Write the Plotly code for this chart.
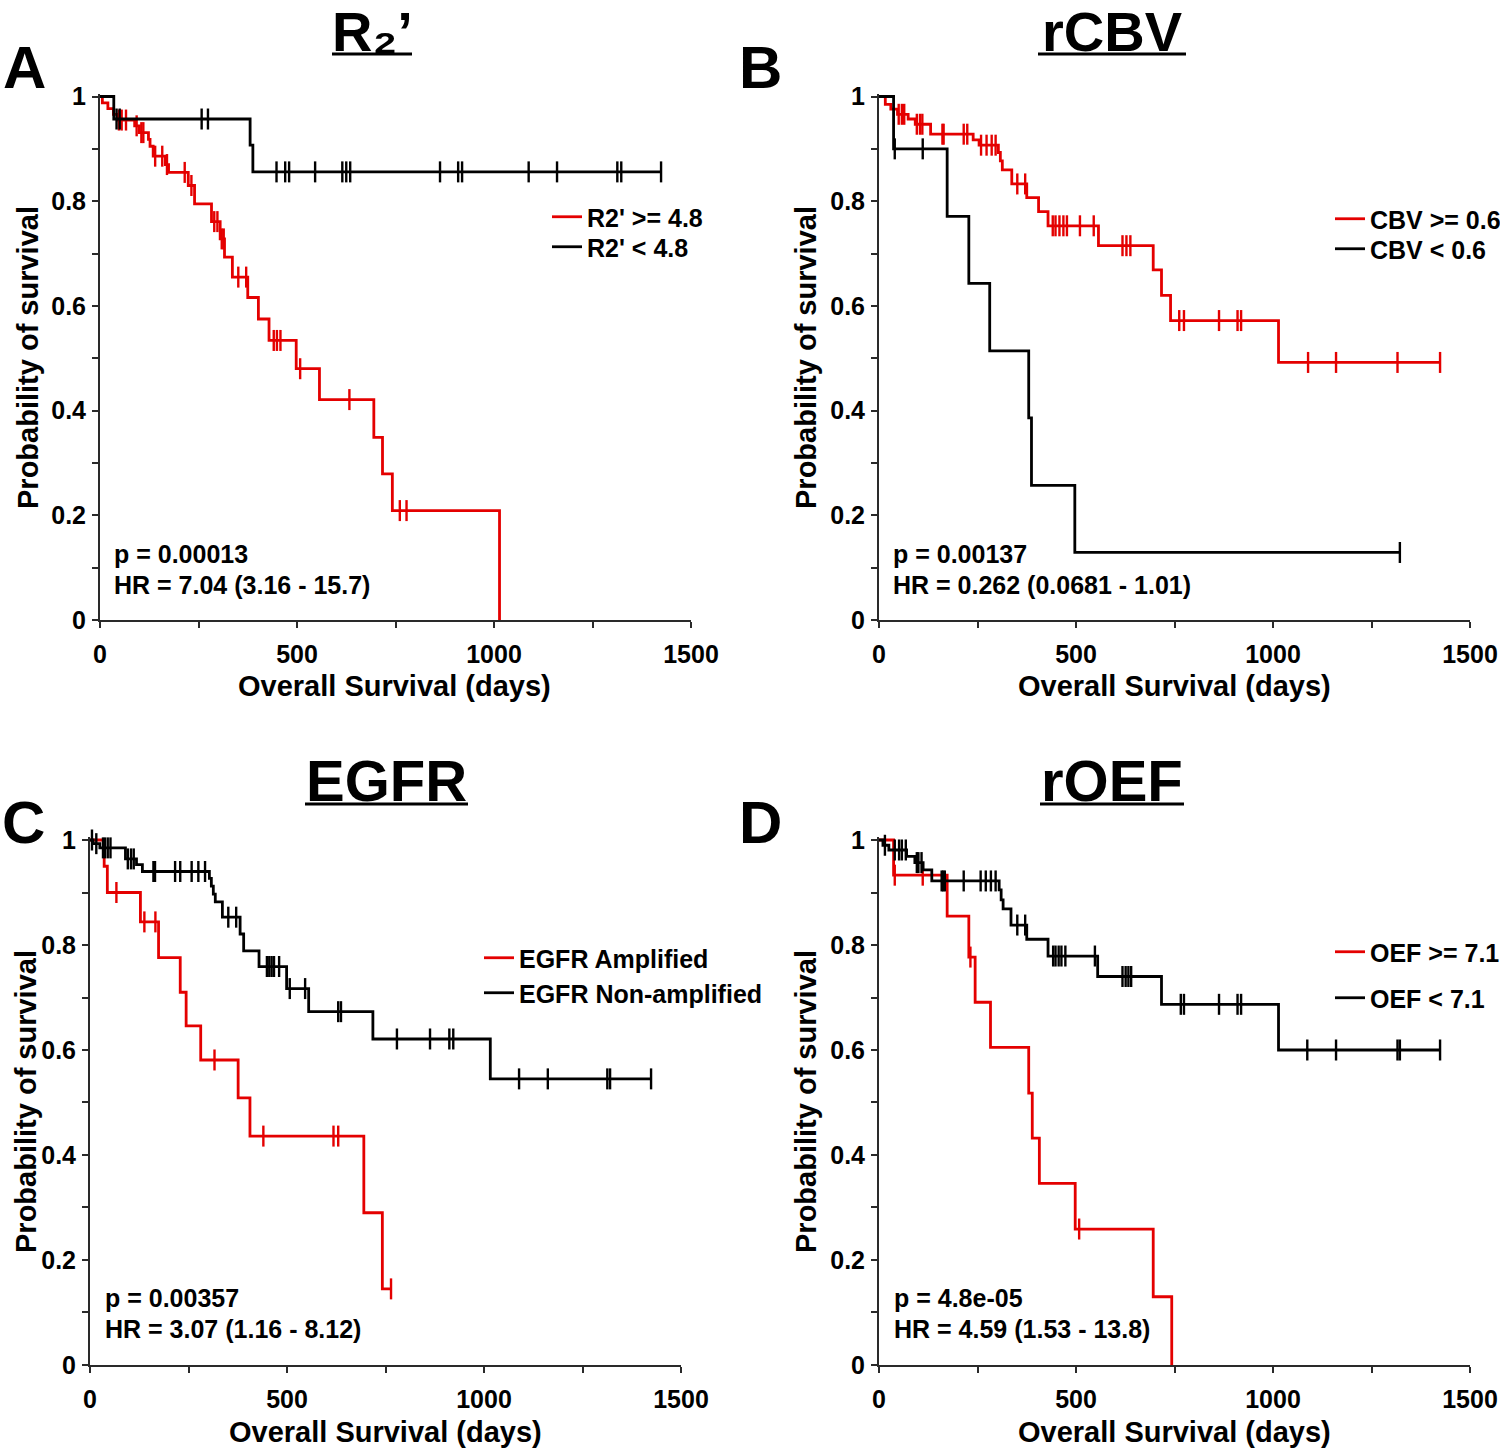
import numpy as np
import plotly.graph_objects as go

W, H = 1500, 1451
RED = "rgb(228,0,0)"
BLACK = "#000000"
FONT = "Liberation Sans, Arial, Helvetica, DejaVu Sans, sans-serif"

# ---------------- Data ----------------
# Panel A : R2'
a_hi_t = [6, 20, 34, 45, 88, 100, 123, 127, 135, 166, 174, 224, 240, 283, 305, 316, 336, 375, 402, 429, 498, 557, 695, 717, 742, 1014]
a_hi_s = [0.988, 0.977, 0.966, 0.955, 0.944, 0.931, 0.918, 0.905, 0.886, 0.870, 0.855, 0.830, 0.795, 0.761, 0.728, 0.693, 0.655, 0.616, 0.575, 0.534, 0.480, 0.421, 0.349, 0.279, 0.209, 0.0]
a_hi_c = [48, 55, 66, 93, 105, 110, 140, 158, 170, 215, 232, 290, 298, 309, 314, 351, 371, 441, 449, 458, 508, 633, 761, 778]
a_lo_t = [35, 381, 388]
a_lo_s = [0.957, 0.907, 0.856]
a_lo_c = [42, 50, 258, 274, 448, 470, 480, 546, 615, 625, 635, 863, 909, 919, 1088, 1160, 1313, 1323, 1424]

# Panel B : rCBV
b_hi_t = [16, 30, 47, 74, 92, 131, 239, 254, 303, 308, 313, 337, 375, 405, 429, 557, 696, 717, 740, 1014]
b_hi_s = [0.985, 0.976, 0.966, 0.957, 0.947, 0.928, 0.917, 0.907, 0.893, 0.877, 0.860, 0.833, 0.807, 0.780, 0.753, 0.715, 0.669, 0.620, 0.572, 0.492]
b_hi_c = [50, 58, 64, 96, 104, 110, 161, 164, 215, 224, 259, 273, 286, 296, 351, 371, 441, 448, 458, 468, 477, 510, 545, 618, 628, 638, 762, 774, 863, 910, 919, 1089, 1160, 1316, 1424]
b_lo_t = [37, 173, 228, 281, 380, 387, 497]
b_lo_s = [0.900, 0.771, 0.643, 0.514, 0.386, 0.257, 0.129]
b_lo_c = [40, 111, 1322]

# Panel C : EGFR
c_amp_t = [36, 44, 128, 174, 229, 244, 281, 376, 406, 695, 742]
c_amp_s = [0.950, 0.900, 0.844, 0.776, 0.710, 0.646, 0.581, 0.509, 0.436, 0.290, 0.145]
c_amp_c = [67, 138, 166, 316, 440, 618, 630, 764]
c_non_t = [8, 25, 90, 118, 133, 303, 308, 313, 318, 336, 381, 390, 429, 499, 555, 718, 1016]
c_non_s = [0.993, 0.985, 0.964, 0.953, 0.940, 0.927, 0.912, 0.897, 0.882, 0.853, 0.821, 0.789, 0.759, 0.717, 0.673, 0.621, 0.545]
c_non_c = [5, 16, 33, 38, 45, 52, 96, 104, 111, 161, 165, 216, 229, 258, 275, 292, 351, 371, 449, 455, 461, 467, 480, 507, 546, 630, 637, 779, 863, 912, 922, 1089, 1162, 1313, 1320, 1424]

# Panel D : rOEF
d_hi_t = [37, 173, 228, 244, 283, 380, 389, 407, 498, 696, 743]
d_hi_s = [0.933, 0.855, 0.777, 0.691, 0.605, 0.518, 0.432, 0.346, 0.259, 0.130, 0.0]
d_hi_c = [40, 111, 232, 508]
d_lo_t = [10, 25, 70, 91, 112, 134, 305, 310, 315, 335, 375, 429, 555, 717, 1014]
d_lo_s = [0.990, 0.981, 0.969, 0.957, 0.943, 0.922, 0.905, 0.886, 0.869, 0.838, 0.811, 0.779, 0.740, 0.687, 0.600]
d_lo_c = [15, 40, 51, 58, 68, 96, 100, 108, 159, 163, 167, 215, 258, 271, 284, 296, 351, 371, 442, 448, 456, 463, 473, 548, 618, 626, 633, 640, 766, 774, 863, 910, 919, 1087, 1160, 1316, 1322, 1424]

titles = ["R\u2082\u2019", "rCBV", "EGFR", "rOEF"]
letters = ["A", "B", "C", "D"]
legend_names = [("R2' >= 4.8", "R2' < 4.8"), ("CBV >= 0.6", "CBV < 0.6"),
                ("EGFR Amplified", "EGFR Non-amplified"), ("OEF >= 7.1", "OEF < 7.1")]
p_texts = ["p = 0.00013", "p = 0.00137", "p = 0.00357", "p = 4.8e-05"]
hr_texts = ["HR = 7.04 (3.16 - 15.7)", "HR = 0.262 (0.0681 - 1.01)",
            "HR = 3.07 (1.16 - 8.12)", "HR = 4.59 (1.53 - 13.8)"]
x_ticks = [0, 250, 500, 750, 1000, 1250, 1500]
x_ticktext = ["0", "", "500", "", "1000", "", "1500"]
y_ticks = [round(0.1 * i, 1) for i in range(11)]
y_ticktext = ["0", "", "0.2", "", "0.4", "", "0.6", "", "0.8", "", "1"]

curves = [
    ((a_hi_t, a_hi_s, a_hi_c), (a_lo_t, a_lo_s, a_lo_c)),
    ((b_hi_t, b_hi_s, b_hi_c), (b_lo_t, b_lo_s, b_lo_c)),
    ((c_amp_t, c_amp_s, c_amp_c), (c_non_t, c_non_s, c_non_c)),
    ((d_hi_t, d_hi_s, d_hi_c), (d_lo_t, d_lo_s, d_lo_c)),
]

# ---------------- Layout geometry (window pixels) ----------------
# (x0_px, x1_px, ybottom_px, ytop_px) for each panel
panels_px = [(100, 691, 620, 96.5), (879, 1470, 620, 96.5),
             (90, 681, 1365, 840), (879, 1470, 1365, 840)]
YMAX = 1.005
# legend entry: (line end x, centre y) for red and black entries
legend_px = [((582, 217), (582, 247)), ((1365, 219), (1365, 249)),
             ((514, 958), (514, 993)), ((1365, 952), (1365, 998))]


def px(x):
    return x / W


def py(y):
    return 1 - y / H


fig = go.Figure()
layout = dict(width=W, height=H, margin=dict(l=0, r=0, t=0, b=0, autoexpand=False),
              paper_bgcolor="white", plot_bgcolor="rgba(0,0,0,0)",
              font=dict(family=FONT, size=25, color="black", weight="bold"),
              showlegend=True)

leg_n = 0
for i, ((hi, lo), (x0, x1, yb, y1)) in enumerate(zip(curves, panels_px)):
    k = "" if i == 0 else str(i + 1)
    xa, ya = "x" + k, "y" + k
    for j, ((t, s, c), color) in enumerate(zip((hi, lo), (RED, BLACK))):
        leg_n += 1
        leg = "legend" if leg_n == 1 else f"legend{leg_n}"
        t = np.asarray(t, float)
        s = np.asarray(s, float)
        c = np.asarray(c, float)
        end = max(t.max(), c.max() if len(c) else 0)
        xs = np.concatenate([[0], t])
        ys = np.concatenate([[1.0], s])
        if end > t.max():
            xs = np.append(xs, end)
            ys = np.append(ys, s[-1])
        fig.add_trace(go.Scatter(
            x=xs, y=ys, mode="lines", line=dict(color=color, width=2.8, shape="hv"),
            name=legend_names[i][j], xaxis=xa, yaxis=ya, legend=leg,
            hoverinfo="skip"))
        idx = np.searchsorted(t, c, side="right") - 1
        cy = np.where(idx >= 0, s[np.clip(idx, 0, None)], 1.0)
        fig.add_trace(go.Scatter(
            x=c, y=cy, mode="markers", showlegend=False, xaxis=xa, yaxis=ya,
            marker=dict(symbol="line-ns", size=15, color=color,
                        line=dict(color=color, width=2.4)),
            hoverinfo="skip", cliponaxis=False))
        lx, ly = legend_px[i][j]
        layout[leg] = dict(x=px(lx - 35), y=py(ly), xanchor="left", yanchor="middle",
                           bgcolor="rgba(0,0,0,0)", borderwidth=0,
                           font=dict(family=FONT, size=25, color="black", weight="bold"))

    height = yb - y1
    ytop_dom = y1 - (YMAX - 1) * height
    axis_common = dict(showline=True, linecolor="#2a2a2a", linewidth=2,
                       ticks="outside", ticklen=6, tickwidth=1.6, tickcolor="#2a2a2a",
                       showgrid=False, zeroline=False, automargin=False,
                       tickfont=dict(family=FONT, size=25, color="black", weight="bold"))
    layout["xaxis" + k] = dict(axis_common, domain=[px(x0), px(x1)], range=[0, 1500],
                               tickvals=x_ticks, ticktext=x_ticktext, anchor=ya,
                               ticklabelstandoff=5)
    layout["yaxis" + k] = dict(axis_common, domain=[py(yb), py(ytop_dom)], range=[0, YMAX],
                               tickvals=y_ticks, ticktext=y_ticktext, anchor=xa,
                               ticklabelstandoff=1)

annotations = []
shapes = []


def ann(text, x, y, size, xanchor="center", yanchor="middle", angle=0):
    annotations.append(dict(text=text, x=px(x), y=py(y), xref="paper", yref="paper",
                            xanchor=xanchor, yanchor=yanchor, showarrow=False, textangle=angle,
                            font=dict(family=FONT, size=size, color="black", weight="bold")))


title_pos = [(372, 31.5), (1112, 31.5), (386, 780), (1112, 780)]
title_size = [56, 56, 58, 58]
underline = [(332, 412, 54), (1038, 1186, 54), (305, 468, 804), (1040, 1184, 804)]
letter_pos = [(24, 68), (760, 68), (23, 822), (760, 822)]
xlab_pos = [(395, 686), (1174, 686), (385, 1432), (1174, 1432)]
ylab_pos = [(28, 358), (806, 358), (26, 1102), (806, 1102)]
stat_pos = [(112, 554, 585), (891, 554, 585), (103, 1298, 1329), (892, 1298, 1329)]

for i in range(4):
    ann(titles[i], *title_pos[i], size=title_size[i])
    u0, u1, uy = underline[i]
    shapes.append(dict(type="line", xref="paper", yref="paper", x0=px(u0), x1=px(u1),
                       y0=py(uy), y1=py(uy), line=dict(color="black", width=3)))
    ann(letters[i], *letter_pos[i], size=60)
    ann("Overall Survival (days)", *xlab_pos[i], size=29)
    ann("Probability of survival", *ylab_pos[i], size=29, angle=-90)
    sx, sy1, sy2 = stat_pos[i]
    ann(p_texts[i], sx, sy1, size=25, xanchor="left")
    ann(hr_texts[i], sx, sy2, size=25, xanchor="left")

layout["annotations"] = annotations
layout["shapes"] = shapes
fig.update_layout(**layout)
fig.write_html("out.html", config={"displayModeBar": False},
               post_script="document.body.style.margin='0';document.body.style.overflow='hidden';")
